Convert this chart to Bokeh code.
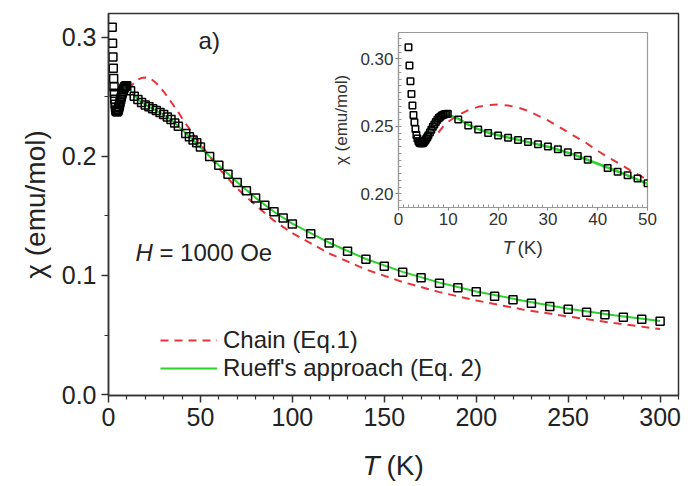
import numpy as np
from bokeh.plotting import figure
from bokeh.models import FixedTicker, PrintfTickFormatter, Label, Legend, LegendItem, Range1d
from bokeh.core.properties import value
from bokeh.layouts import column
from bokeh.embed import file_html
from bokeh.resources import INLINE

FONT = "Liberation Sans"
RED = "#e8333a"
GREEN = "#2bd42b"

# ---------------- data ----------------
T_data = [2.0, 2.2, 2.4, 2.6, 2.8, 3.0, 3.2, 3.4, 3.6, 3.8, 4.0, 4.2, 4.4, 4.6, 4.8, 5.0,
          5.2, 5.4, 5.6, 5.8, 6.0, 6.3, 6.6, 6.9, 7.2, 7.5, 7.8, 8.1, 8.4, 8.7, 9.0, 9.3,
          9.6, 9.9,
          12, 14, 16, 18, 20, 22, 24, 26, 28, 30, 32, 34, 36, 38, 42, 44, 46, 48, 50,
          55, 60, 65, 70, 75, 80, 85, 90, 95, 100,
          110, 120, 130, 140, 150, 160, 170, 180, 190, 200, 210, 220, 230, 240, 250,
          260, 270, 280, 290, 300]
chi_data = [0.3085, 0.2950, 0.2835, 0.2740, 0.2655, 0.2585, 0.2530, 0.2480, 0.2437, 0.2410,
            0.2390, 0.2380, 0.2376, 0.2375, 0.2376, 0.2380, 0.2388, 0.2398, 0.2410, 0.2422,
            0.2435, 0.2455, 0.2475, 0.2497, 0.2515, 0.2533, 0.2550, 0.2562, 0.2572, 0.2580,
            0.2586, 0.2590, 0.2592, 0.2593,
            0.2551, 0.2506, 0.2477, 0.2452, 0.2432, 0.2417, 0.2400, 0.2385, 0.2368, 0.2351,
            0.2331, 0.2309, 0.2281, 0.2254, 0.2193, 0.2165, 0.2138, 0.2114, 0.2079,
            0.2000, 0.1925, 0.1850, 0.1780, 0.1712, 0.1650, 0.1590, 0.1535, 0.1482, 0.1432,
            0.1350, 0.1272, 0.1203, 0.1136, 0.1077, 0.1028, 0.0980, 0.0935, 0.0896, 0.0863,
            0.0826, 0.0796, 0.0767, 0.0739, 0.0717, 0.0692, 0.0670, 0.0650, 0.0633, 0.0616]

# Chain model (Eq. 1)
T_chain = [8, 9, 10, 12, 14, 16, 18, 20, 22, 24, 26, 28, 30, 32, 35, 38, 41, 44, 47, 50,
           55, 60, 70, 80, 90, 100, 120, 140, 160, 180, 200, 225, 250, 275, 300]
chi_chain = [0.2455, 0.2500, 0.2535, 0.2585, 0.2620, 0.2645, 0.2658, 0.2662, 0.2655, 0.2640,
             0.2615, 0.2580, 0.2545, 0.2502, 0.2436, 0.2370, 0.2296, 0.2232, 0.2165, 0.2105,
             0.2000, 0.1900, 0.1730, 0.1590, 0.1460, 0.1355, 0.1185, 0.1050, 0.0945, 0.0860,
             0.0790, 0.0715, 0.0655, 0.0600, 0.0550]

# Rueff's approach (Eq. 2)
T_rueff = [5.2, 5.6, 6.0, 6.5, 7.0, 7.5, 8.0, 9.0, 10, 11, 12, 14, 16, 18, 20, 25, 30, 35,
           40, 45, 50, 60, 70, 80, 90, 100, 120, 140, 160, 180, 200, 225, 250, 275, 300]
chi_rueff = [0.2405, 0.2445, 0.2478, 0.2510, 0.2535, 0.2553, 0.2566, 0.2580, 0.2582, 0.2572,
             0.2557, 0.2513, 0.2480, 0.2455, 0.2435, 0.2393, 0.2350, 0.2295, 0.2224, 0.2152,
             0.2075, 0.1925, 0.1782, 0.1652, 0.1535, 0.1435, 0.1275, 0.1138, 0.1030, 0.0940,
             0.0866, 0.0790, 0.0720, 0.0665, 0.0618]

x_major = [0, 50, 100, 150, 200, 250, 300]
x_minor = [t for t in range(0, 311, 10) if t % 50 != 0]
y_major = [0.0, 0.1, 0.2, 0.3]
y_minor = [0.05, 0.15, 0.25]

ix_major = [0, 10, 20, 30, 40, 50]
ix_minor = [t for t in range(0, 51) if t % 10 != 0]
iy_major = [0.20, 0.25, 0.30]
iy_minor = [round(0.19 + 0.005 * i, 3) for i in range(0, 27)]

# ---------------- main figure ----------------
p = figure(width=688, height=480, output_backend="svg", toolbar_location=None,
           x_range=Range1d(0, 310), y_range=Range1d(-0.0008, 0.32),
           min_border_left=108, min_border_right=10, min_border_top=13, min_border_bottom=85)
p.grid.visible = False
p.outline_line_color = "#333333"
p.outline_line_width = 1.5
p.background_fill_color = "white"

for ax in (p.xaxis[0], p.yaxis[0]):
    ax.axis_line_color = "#333333"
    ax.axis_line_width = 1.5
    ax.major_tick_line_color = "#333333"
    ax.minor_tick_line_color = "#333333"
    ax.major_tick_line_width = 1.5
    ax.minor_tick_line_width = 1.2
    ax.major_tick_out = 7
    ax.major_tick_in = 0
    ax.minor_tick_out = 4
    ax.minor_tick_in = 0
    ax.major_label_text_font = FONT
    ax.major_label_text_font_size = "25px"
    ax.major_label_text_color = "#222222"
    ax.major_label_standoff = 5

p.xaxis.ticker = FixedTicker(ticks=x_major, minor_ticks=x_minor)
p.yaxis.ticker = FixedTicker(ticks=y_major, minor_ticks=y_minor)
p.yaxis.formatter = PrintfTickFormatter(format="%.1f")
p.yaxis.axis_label = "χ (emu/mol)"
p.yaxis.axis_label_text_font = FONT
p.yaxis.axis_label_text_font_size = "28px"
p.yaxis.axis_label_text_font_style = "normal"
p.yaxis.axis_label_text_color = "#222222"
p.yaxis.axis_label_standoff = 8

r_green = p.line(T_rueff, chi_rueff, line_color=GREEN, line_width=2)
r_red = p.line(T_chain, chi_chain, line_color=RED, line_width=2, line_dash="8 6")
p.scatter(T_data, chi_data, marker="square", size=8, fill_alpha=0,
          line_color="black", line_width=1.5)

legend = Legend(items=[LegendItem(label="Chain (Eq.1)", renderers=[r_red]),
                       LegendItem(label="Rueff's approach (Eq. 2)", renderers=[r_green])],
                location=(52, 13), padding=0, margin=0, spacing=0,
                glyph_width=57, glyph_height=28, label_height=28, label_standoff=6,
                border_line_alpha=0, background_fill_alpha=0,
                label_text_font=FONT, label_text_font_size="24px",
                label_text_color="#222222")
p.add_layout(legend)

p.add_layout(Label(x=49, y=0.2975, text="a)", text_font=FONT, text_font_size="24px",
                   text_baseline="middle", text_color="#222222"))
p.add_layout(Label(x=14.7, y=0.1193, text="H", text_font=FONT, text_font_size="24px",
                   text_font_style="italic", text_baseline="middle", text_color="#222222"))
p.add_layout(Label(x=27.7, y=0.1193, text="= 1000 Oe", text_font=FONT, text_font_size="24px",
                   text_baseline="middle", text_color="#222222"))

# ---------------- inset ----------------
q = figure(width=367, height=243, output_backend="svg", toolbar_location=None,
           x_range=Range1d(0, 50), y_range=Range1d(0.19, 0.3195),
           min_border_left=108, min_border_right=10, min_border_top=13, min_border_bottom=55,
           margin=(-461, 0, 0, 290))
q.grid.visible = False
q.outline_line_color = "#999999"
q.outline_line_width = 1.2
q.background_fill_color = "white"
q.border_fill_alpha = 0

for ax in (q.xaxis[0], q.yaxis[0]):
    ax.axis_line_color = "#999999"
    ax.axis_line_width = 1.2
    ax.major_tick_line_color = "#888888"
    ax.minor_tick_line_color = "#999999"
    ax.major_tick_out = 3
    ax.major_tick_in = 0
    ax.minor_tick_out = 0
    ax.minor_tick_in = 3
    ax.major_label_text_font = FONT
    ax.major_label_text_font_size = "17px"
    ax.major_label_text_color = "#333333"
    ax.major_label_standoff = 2

q.xaxis.ticker = FixedTicker(ticks=ix_major, minor_ticks=ix_minor)
q.yaxis.ticker = FixedTicker(ticks=iy_major, minor_ticks=iy_minor)
q.yaxis.formatter = PrintfTickFormatter(format="%.2f")
q.yaxis.axis_label = "χ (emu/mol)"
q.yaxis.axis_label_text_font = FONT
q.yaxis.axis_label_text_font_size = "17px"
q.yaxis.axis_label_text_font_style = "normal"
q.yaxis.axis_label_text_color = "#333333"
q.yaxis.axis_label_standoff = 6

q.line(T_rueff, chi_rueff, line_color=GREEN, line_width=2.5)
q.line(T_chain, chi_chain, line_color=RED, line_width=2, line_dash="8 7")
q.scatter(T_data, chi_data, marker="square", size=6.5, fill_alpha=0,
          line_color="black", line_width=1.5)

# ---------------- transparent overlay carrying the axis titles "T (K)" ----------------
r = figure(width=688, height=249, output_backend="svg", toolbar_location=None,
           x_range=Range1d(108, 678), y_range=Range1d(484, 235),
           x_axis_location=None, y_axis_location=None,
           min_border_left=108, min_border_right=10, min_border_top=0, min_border_bottom=0,
           margin=(-27, 0, 0, 0))
r.grid.visible = False
r.outline_line_color = None
r.background_fill_alpha = 0
r.border_fill_alpha = 0

# main x-axis title
r.text(x=[362], y=[465], text=["T"], text_font=value(FONT), text_font_size="28px",
       text_font_style="italic", text_baseline="middle", text_color="#222222")
r.text(x=[386], y=[465], text=["(K)"], text_font=value(FONT), text_font_size="28px",
       text_baseline="middle", text_color="#222222")
# inset x-axis title
r.text(x=[502], y=[247], text=["T"], text_font=value(FONT), text_font_size="19px",
       text_font_style="italic", text_baseline="middle", text_color="#333333")
r.text(x=[517], y=[247], text=["(K)"], text_font=value(FONT), text_font_size="19px",
       text_baseline="middle", text_color="#333333")

layout = column(p, q, r, spacing=0)
open("out.html", "w").write(file_html(layout, INLINE))
